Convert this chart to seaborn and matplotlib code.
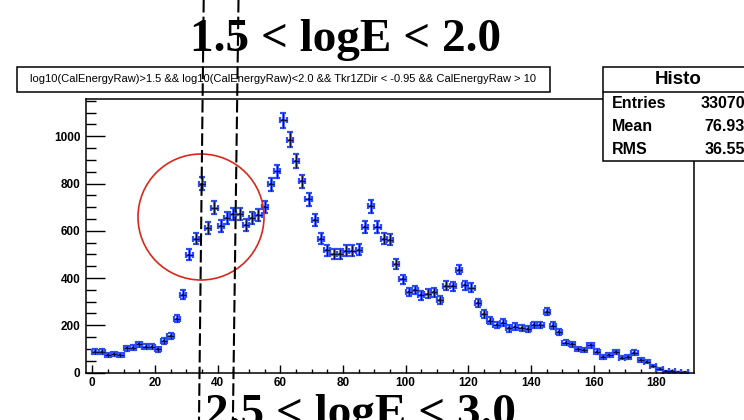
import numpy as np
import pandas as pd
import matplotlib
matplotlib.use("Agg")
import matplotlib.pyplot as plt
import seaborn as sns
from matplotlib.patches import Ellipse, Rectangle
from matplotlib.lines import Line2D
from matplotlib.ticker import MultipleLocator

# -----------------------------
# Histogram data (bin width 2)
# -----------------------------
bin_centers = [1, 3, 5, 7, 9, 11, 13, 15, 17, 19, 21, 23, 25, 27, 29,
               31, 33, 35, 37, 39, 41, 43, 45, 47, 49, 51, 53, 55, 57, 59,
               61, 63, 65, 67, 69, 71, 73, 75, 77, 79, 81, 83, 85,
               87, 89, 91, 93, 95, 97, 99, 101, 103, 105, 107, 109, 111,
               113, 115, 117, 119, 121, 123, 125, 127, 129, 131, 133, 135, 137,
               139, 141, 143, 145, 147, 149,
               151, 153, 155, 157, 159, 161, 163, 165, 167, 169, 171, 173,
               175, 177, 179, 181, 183, 185, 187, 189]
counts = [88, 88, 75, 77, 73, 103, 105, 120, 109, 109, 98, 134, 154, 227, 330,
          499, 567, 799, 613, 698, 619, 654, 670, 672, 623, 654, 668, 700, 796, 851,
          1067, 985, 894, 809, 734, 644, 567, 518, 501, 501, 515, 515, 520,
          616, 703, 616, 567, 563, 458, 395, 341, 349, 327, 334, 339, 306,
          367, 365, 436, 370, 358, 295, 247, 219, 201, 210, 187, 194, 189,
          184, 201, 201, 258, 198, 172,
          126, 120, 99, 95, 116, 88, 67, 74, 87, 63, 64, 84,
          53, 46, 27, 15, 6, 6, 2, 1]

title_top = "1.5 < logE < 2.0"
title_bottom = "2.5 < logE < 3.0"
cut_text = ("log10(CalEnergyRaw)>1.5 && log10(CalEnergyRaw)<2.0 && "
            "Tkr1ZDir < -0.95 && CalEnergyRaw > 10")
stats_labels = ["Entries", "Mean", "RMS"]
stats_values = ["33070", "76.93", "36.55"]

df = pd.DataFrame({"x": bin_centers, "n": counts})
df["err"] = np.sqrt(df["n"])

# -----------------------------
# Style
# -----------------------------
sns.set_style("white")
plt.rcParams["font.family"] = ["Liberation Sans", "DejaVu Sans"]
plt.rcParams["text.color"] = "black"
plt.rcParams["xtick.color"] = "black"
plt.rcParams["ytick.color"] = "black"
plt.rcParams["axes.edgecolor"] = "black"

W, H = 744, 420
fig = plt.figure(figsize=(W / 100, H / 100), dpi=100)
fig.patch.set_facecolor("white")

def fx(px):
    return px / W

def fy(py):
    return 1 - py / H

ax = fig.add_axes([fx(86), fy(372.5), fx(694) - fx(86), fy(98.5) - fy(372.5)])

# error bars: blue outer, dark thin centre
ax.errorbar(df["x"], df["n"], xerr=1, yerr=df["err"], fmt="none",
            ecolor="#2b4cff", elinewidth=1.9, capsize=2.3, capthick=1.6, zorder=2)
ax.errorbar(df["x"], df["n"], xerr=1, yerr=df["err"], fmt="none",
            ecolor="#10103a", elinewidth=0.7, capsize=0, zorder=3)
sns.scatterplot(data=df, x="x", y="n", ax=ax, marker="s", s=2,
                color="#10103a", edgecolor="none", legend=False, zorder=4)

ax.set_xlim(-2, 192)
ax.set_ylim(0, 1160)
ax.set_xlabel("")
ax.set_ylabel("")
ax.xaxis.set_major_locator(MultipleLocator(20))
ax.xaxis.set_minor_locator(MultipleLocator(5))
ax.yaxis.set_major_locator(MultipleLocator(200))
ax.yaxis.set_minor_locator(MultipleLocator(50))
ax.tick_params(axis="x", which="major", direction="in", length=5.8, width=1,
               labelsize=8.5, pad=3, bottom=True, top=False)
ax.tick_params(axis="x", which="minor", direction="in", length=3, width=1,
               bottom=True, top=False)
ax.tick_params(axis="y", which="major", direction="in", length=13.5, width=1,
               labelsize=8.5, pad=4, left=True, right=False)
ax.tick_params(axis="y", which="minor", direction="in", length=7, width=1,
               left=True, right=False)
for lbl in ax.get_xticklabels() + ax.get_yticklabels():
    lbl.set_fontweight("bold")
for sp in ax.spines.values():
    sp.set_linewidth(1.1)
    sp.set_color("black")

# -----------------------------
# Title box with cut string
# -----------------------------
fig.add_artist(Rectangle((fx(16.6), fy(91.7)), fx(549.6) - fx(16.6), fy(66.7) - fy(91.7),
                         transform=fig.transFigure, facecolor="white",
                         edgecolor="black", lw=1.1, zorder=5))
fig.text(fx(283), fy(79.5), cut_text, ha="center", va="center", fontsize=8.0,
         zorder=6)

# -----------------------------
# Stats box
# -----------------------------
fig.add_artist(Rectangle((fx(602.7), fy(161)), fx(800) - fx(602.7), fy(67.3) - fy(161),
                         transform=fig.transFigure, facecolor="white",
                         edgecolor="black", lw=1.1, zorder=5))
fig.add_artist(Line2D([fx(602.7), fx(744)], [fy(91.7), fy(91.7)],
                      transform=fig.transFigure, color="black", lw=1.1, zorder=6))
fig.text(fx(678), fy(79.5), "Histo", ha="center", va="center", fontsize=13.5,
         fontweight="bold", zorder=6)
for i, (lab, val) in enumerate(zip(stats_labels, stats_values)):
    yy = 103.3 + i * 23
    fig.text(fx(611.7), fy(yy), lab, ha="left", va="center", fontsize=11.5,
             fontweight="bold", zorder=6)
    fig.text(fx(745), fy(yy), val, ha="right", va="center", fontsize=11.5,
             fontweight="bold", zorder=6)

# -----------------------------
# Overlaid annotations
# -----------------------------
fig.text(fx(345), fy(51), title_top, ha="center", va="baseline", fontsize=34,
         family="Liberation Serif", fontweight="bold", zorder=7)
fig.text(fx(360), fy(426), title_bottom, ha="center", va="baseline", fontsize=34,
         family="Liberation Serif", fontweight="bold", zorder=7)

fig.add_artist(Ellipse((fx(201), fy(217)), 126 / W, 126 / H, transform=fig.transFigure,
                       fill=False, edgecolor="#d8281a", lw=1.2, zorder=8))

for x_top, x_bot in [(203.7, 199.0), (238.5, 232.9)]:
    fig.add_artist(Line2D([fx(x_top), fx(x_bot)], [1, 0], transform=fig.transFigure,
                          color="black", lw=1.5, dashes=(6, 2), zorder=9))

fig.savefig("out.png", dpi=100)
plt.close(fig)
